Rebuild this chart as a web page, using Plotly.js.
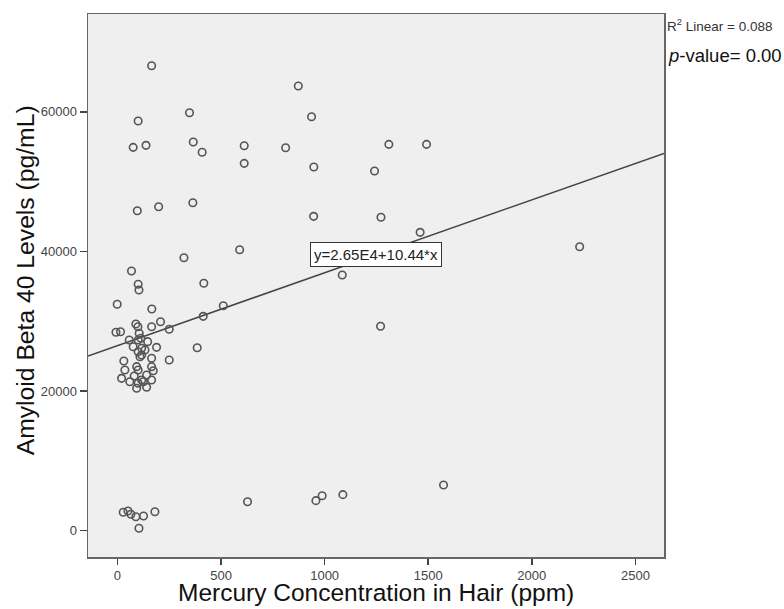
<!DOCTYPE html>
<html>
<head>
<meta charset="utf-8">
<script src="https://cdn.plot.ly/plotly-3.0.1.min.js"></script>
<style>html,body{margin:0;padding:0;background:#fff;}#chart{width:784px;height:609px;}</style>
</head>
<body>
<div id="chart"></div>
<script>
// Mercury concentration in hair (ppm)
const mercury = [
  165, 348, 100, 76, 138, 366, 409, 612, 612,
  873, 937, 812, 948, 1310, 1492, 1241,
  96, 199, 364, 590, 321, 68, 100, 104, 417, 511, 414,
  947, 1272, 1461, 1085, 1270, 2231,
  -1, 166, 208, 89, 99, 165, 250, -7, 15, 105, 57, 100, 113, 146, 76, 117, 189,
  100, 117, 133, 109, 165, 31, 250, 36, 93, 100, 165, 173, 20, 60, 81, 117, 141,
  165, 100, 93, 141, 125, 385,
  28, 51, 65, 89, 126, 181, 104, 628, 958, 988, 1088, 1574
];
// Amyloid beta 40 levels (pg/mL)
const abeta40 = [
  66590, 59860, 58670, 54900, 55190, 55660, 54190, 55130, 52610,
  63680, 59290, 54850, 52080, 55330, 55330, 51510,
  45830, 46400, 46970, 40240, 39100, 37190, 35290, 34470, 35430, 32220, 30700,
  45020, 44880, 42730, 36620, 29270, 40670,
  32420, 31750, 29930, 29600, 29210, 29210, 28840, 28410, 28500, 28270, 27310, 27310, 27550, 27070, 26350, 26120, 26260,
  25630, 25160, 25880, 24920, 24690, 24300, 24450, 23010, 23490, 23010, 23490, 22910, 21820, 21340, 22150, 21580, 22300,
  21580, 21110, 20390, 20540, 21340, 26210,
  2630, 2820, 2350, 2000, 2100, 2720, 340, 4150, 4300, 5010, 5160, 6540
];
// Fit line from the chart's stated equation y = 2.65E4 + 10.44*x
const fitIntercept = 26500;
const fitSlope = 10.44;
const xRange = [-142, 2638];
const yRange = [-3770, 74000];
const xTicks = [0, 500, 1000, 1500, 2000, 2500];
const yTicks = [0, 20000, 40000, 60000];
const xTitle = 'Mercury Concentration in Hair (ppm)';
const yTitle = 'Amyloid Beta 40 Levels (pg/mL)';

const fitX = xRange.slice();
const fitY = fitX.map(v => fitIntercept + fitSlope * v);

const traces = [
  {x: fitX, y: fitY, type: 'scatter', mode: 'lines',
   line: {color: '#444', width: 1.5}, hoverinfo: 'skip', showlegend: false},
  {x: mercury, y: abeta40, type: 'scatter', mode: 'markers',
   marker: {symbol: 'circle-open', size: 7.5, color: '#555', line: {width: 1.6, color: '#555'}},
   showlegend: false}
];

const fontFam = 'Liberation Sans, Arial, sans-serif';
const layout = {
  width: 784, height: 609,
  margin: {l: 88, r: 120, t: 14, b: 52},
  paper_bgcolor: '#ffffff',
  plot_bgcolor: '#efefef',
  font: {family: fontFam, color: '#222'},
  showlegend: false,
  xaxis: {
    range: xRange, tickvals: xTicks, ticktext: xTicks.map(String),
    showgrid: false, zeroline: false,
    showline: true, mirror: true, linecolor: '#666', linewidth: 1.5,
    ticks: 'outside', ticklen: 6, tickwidth: 1.5, tickcolor: '#444',
    tickfont: {size: 13, color: '#444', family: fontFam}
  },
  yaxis: {
    range: yRange, tickvals: yTicks, ticktext: yTicks.map(String),
    showgrid: false, zeroline: false,
    showline: true, mirror: true, linecolor: '#666', linewidth: 1.5,
    ticks: 'outside', ticklen: 7, tickwidth: 1.5, tickcolor: '#444',
    tickfont: {size: 13, color: '#444', family: fontFam}
  },
  annotations: [
    {x: 0.5, y: -0.066, xref: 'paper', yref: 'paper', xanchor: 'center', yanchor: 'middle',
     text: xTitle, showarrow: false, font: {size: 24.5, color: '#111', family: fontFam}},
    {x: -0.109, y: 0.51, xref: 'paper', yref: 'paper', xanchor: 'center', yanchor: 'middle', textangle: -90,
     text: yTitle, showarrow: false, font: {size: 24.7, color: '#111', family: fontFam}},
    {x: 1248, y: 39625, xref: 'x', yref: 'y', text: 'y=2.65E4+10.44*x', showarrow: false,
     font: {size: 15, color: '#222', family: fontFam}, bgcolor: '#ffffff', bordercolor: '#333', borderwidth: 1, borderpad: 3},
    {x: 1.002, y: 0.98, xref: 'paper', yref: 'paper', xanchor: 'left', yanchor: 'middle',
     text: 'R<sup>2</sup> Linear = 0.088', showarrow: false, font: {size: 13.5, color: '#333', family: fontFam}},
    {x: 1.004, y: 0.923, xref: 'paper', yref: 'paper', xanchor: 'left', yanchor: 'middle',
     text: '<i>p</i>-value= 0.00', showarrow: false, font: {size: 18.5, color: '#111', family: fontFam}}
  ]
};

Plotly.newPlot('chart', traces, layout, {displayModeBar: false, staticPlot: true});
</script>
</body>
</html>
